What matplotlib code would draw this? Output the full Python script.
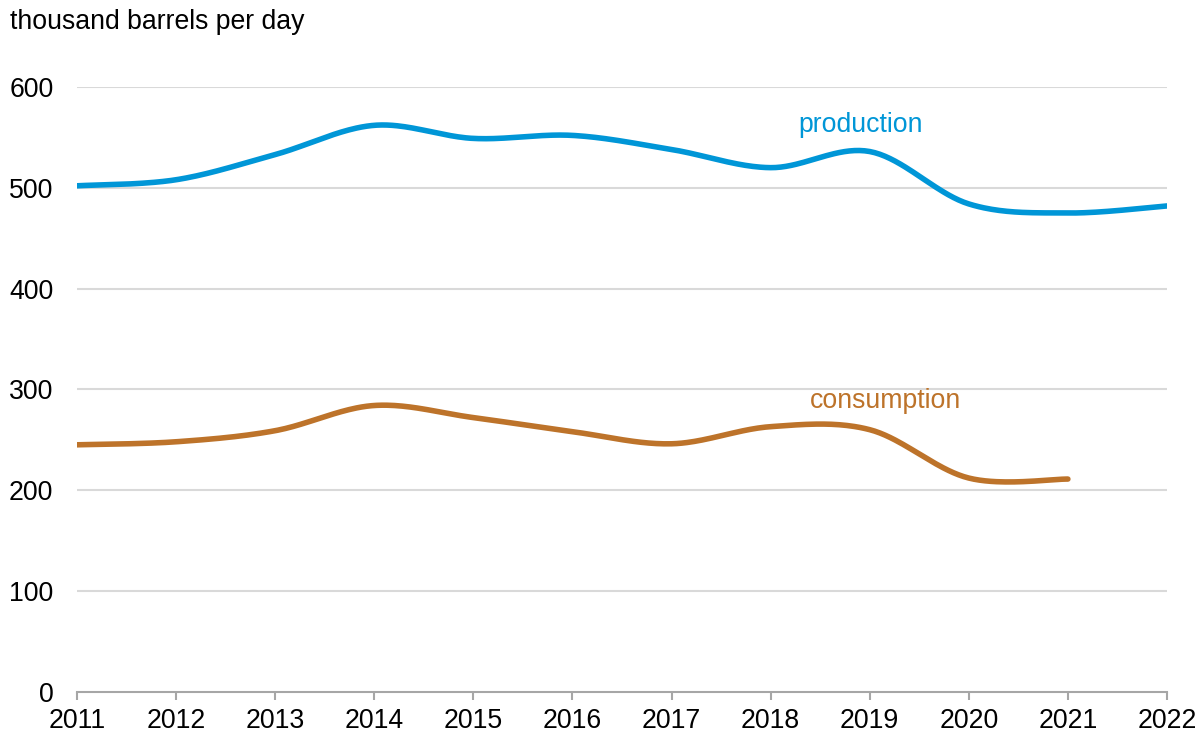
import numpy as np
import matplotlib
matplotlib.use("Agg")
import matplotlib.pyplot as plt

plt.rcParams['font.family'] = ['Liberation Sans', 'DejaVu Sans']

# data (thousand barrels per day)
years = [2011, 2012, 2013, 2014, 2015, 2016, 2017, 2018, 2019, 2020, 2021, 2022]
production = [502, 508, 533, 562, 549, 552, 538, 520, 536, 484, 475, 482]
cons_years = [2011, 2012, 2013, 2014, 2015, 2016, 2017, 2018, 2019, 2020, 2021]
consumption = [245, 248, 259, 284, 272, 258, 246, 263, 260, 212, 211]

blue = '#0096d7'
brown = '#bd732a'
fs = 19.2


def smooth(xs, ys, n=40):
    # catmull-rom style smoothing, like a spreadsheet "smoothed line"
    xs = np.asarray(xs, float)
    ys = np.asarray(ys, float)
    px = np.concatenate([[xs[0]], xs, [xs[-1]]])
    py = np.concatenate([[ys[0]], ys, [ys[-1]]])
    outx, outy = [], []
    for i in range(1, len(px) - 2):
        t = np.linspace(0, 1, n)
        h00 = 2*t**3 - 3*t**2 + 1
        h10 = t**3 - 2*t**2 + t
        h01 = -2*t**3 + 3*t**2
        h11 = t**3 - t**2
        for src, dst in ((px, outx), (py, outy)):
            m0 = (src[i+1] - src[i-1]) / 2
            m1 = (src[i+2] - src[i]) / 2
            dst.extend(h00*src[i] + h10*m0 + h01*src[i+1] + h11*m1)
    return np.array(outx), np.array(outy)


fig = plt.figure(figsize=(11.98, 7.35), dpi=100)
ax = fig.add_axes([0.0643, 0.0589, 0.9098, 0.8227])

x, y = smooth(years, production)
ax.plot(x, y, color=blue, lw=4, solid_capstyle='round', zorder=3)
x, y = smooth(cons_years, consumption)
ax.plot(x, y, color=brown, lw=4, solid_capstyle='round', zorder=3)

ax.set_xlim(2011, 2022)
ax.set_ylim(0, 600)
ax.set_xticks(years)
ax.set_yticks(range(0, 601, 100))
for v in range(100, 601, 100):
    ax.axhline(v, color='#d9d9d9', lw=1.5, zorder=1)

for s in ['top', 'right', 'left']:
    ax.spines[s].set_visible(False)
ax.spines['bottom'].set_color('#a6a6a6')
ax.spines['bottom'].set_linewidth(1.5)
ax.tick_params(axis='x', direction='out', length=5.5, width=1.5, color='#a6a6a6',
               labelsize=fs, pad=6.5)
ax.tick_params(axis='y', length=0, labelsize=fs, pad=17)

ax.text(2018.91, 562, 'production', color=blue, fontsize=fs, ha='center', va='center')
ax.text(2019.16, 288, 'consumption', color=brown, fontsize=fs, ha='center', va='center')

fig.text(10/1198, 1 - 22/735, 'thousand barrels per day', fontsize=fs,
         ha='left', va='center')

fig.savefig('out.png', dpi=100)
